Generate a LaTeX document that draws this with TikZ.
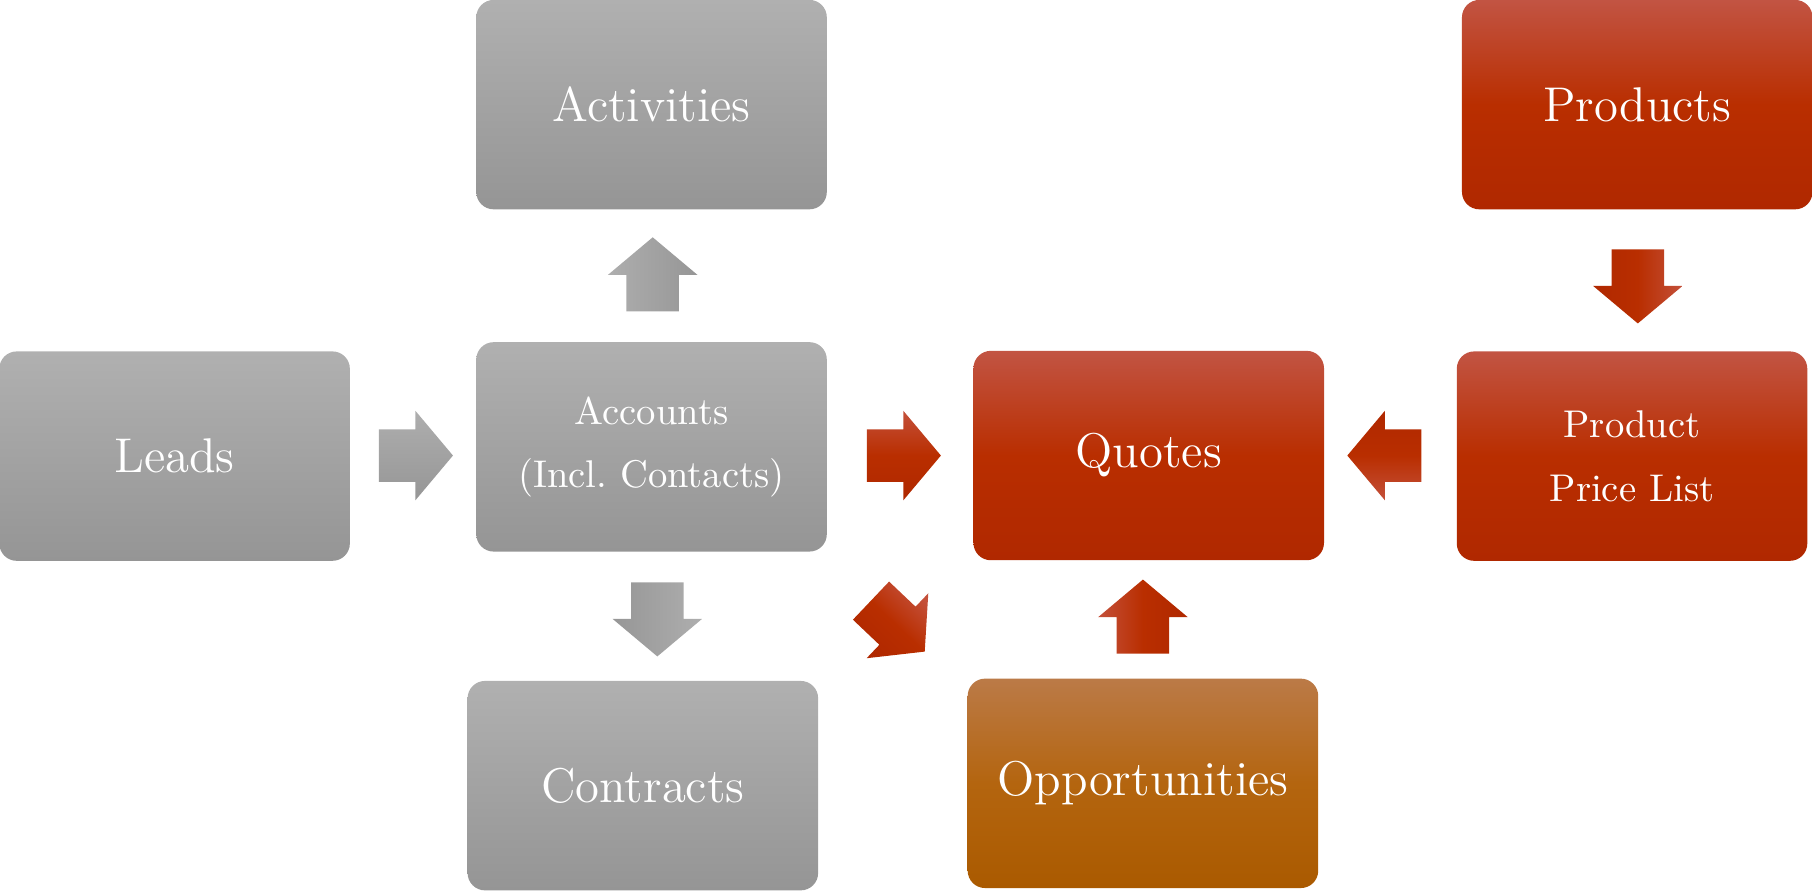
\documentclass[tikz,border=0pt]{standalone}
\usetikzlibrary{shapes.arrows}
\definecolor{graytop}{HTML}{B0B0B0}
\definecolor{graybot}{HTML}{959595}
\definecolor{redtop}{HTML}{C25443}
\definecolor{redmid}{HTML}{B92E00}
\definecolor{redbot}{HTML}{B02800}
\definecolor{oppotop}{HTML}{BB7A47}
\definecolor{oppomid}{HTML}{B4650F}
\definecolor{oppobot}{HTML}{AA5A00}
\definecolor{arrowgraylight}{HTML}{AEAEAE}
\definecolor{arrowgraydark}{HTML}{969696}
\definecolor{arrowredlight}{HTML}{C4503A}

\begin{document}
\begin{tikzpicture}[x=0.01cm, y=-0.01cm]
    \tikzset{
      box/.style={rounded corners=0.15cm, minimum width=3.03cm, minimum height=1.81cm,
        text=white, align=center, font=\fontsize{12}{14}\selectfont},
      small/.style={font=\fontsize{9.5}{15.6}\selectfont},
      graybox/.style={box, top color=graytop, bottom color=graybot},
      redbox/.style={box, top color=redtop, bottom color=redbot, middle color=redmid},
      oppobox/.style={box, top color=oppotop, bottom color=oppobot, middle color=oppomid},
      blockarrow/.style={single arrow, anchor=tail, minimum height=0.64cm, inner xsep=0pt,
        inner ysep=0.22cm, single arrow head extend=0.16cm, single arrow tip angle=100,
        rotate=#1, shading angle=#1},
      grayarrow/.style={top color=arrowgraylight, bottom color=arrowgraydark, blockarrow=#1},
      redarrow/.style={top color=arrowredlight, bottom color=redbot, middle color=redmid, blockarrow=#1}
    }
    \useasboundingbox (0,0) rectangle (1568,771);

    \draw (563.5,90.5) node (activities) [graybox] {Activities};
    \draw (151,394.5) node (leads) [graybox] {Leads};
    \draw (563.5,386.5) node (accounts) [graybox, small] {Accounts\\(Incl.\ Contacts)};
    \draw (556,679.5) node (contracts) [graybox] {Contracts};
    \draw (993.5,394) node (quotes) [redbox] {Quotes};
    \draw (988.5,677.5) node (opportunities) [oppobox] {Opportunities};
    \draw (1416,90.5) node (products) [redbox] {Products};
    \draw (1411.5,394.5) node (pricelist) [redbox, small] {Product\\Price List};

    % gray block arrows
    \draw (564.5,270) node (toactivities) [grayarrow=90] {};
    \draw (327,394) node (toaccounts) [grayarrow=0] {};
    \draw (568.5,503) node (tocontracts) [grayarrow=-90] {};
    % red block arrows
    \draw (749,394) node (accquotes) [redarrow=0] {};
    \draw (1230,394) node (pricequotes) [redarrow=180] {};
    \draw (1416.5,215) node (toprice) [redarrow=-90] {};
    \draw (988.5,566) node (oppoquotes) [redarrow=90] {};
    \draw (752.8,519) node (toopportunities) [redarrow=-43.5] {};

  \end{tikzpicture}
\end{document}
